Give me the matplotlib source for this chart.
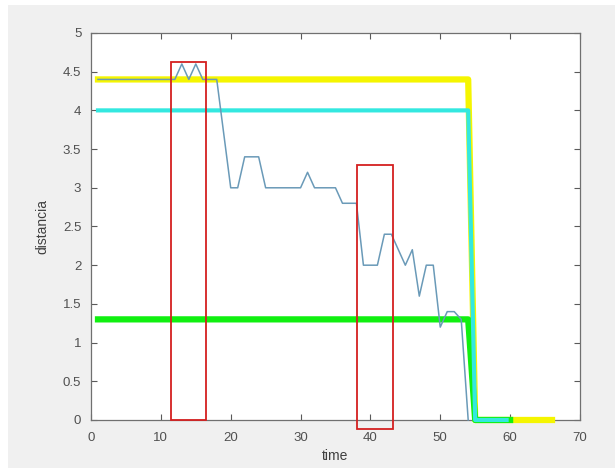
#!/usr/bin/env python3
"""Distance vs time with three reference levels and two highlight boxes."""

import matplotlib
matplotlib.use('Agg')
import matplotlib.pyplot as plt
from matplotlib.patches import Rectangle


# reference levels (breakpoints of each step line)
yellow_t = [1, 54, 55, 66]
yellow_d = [4.4, 4.4, 0.0, 0.0]

cyan_t = [1, 54, 55, 59.5]
cyan_d = [4.0, 4.0, 0.0, 0.0]

green_t = [1, 54, 55, 60]
green_d = [1.3, 1.3, 0.0, 0.0]

# measured distance
dist_t = [1, 12, 13, 14, 15, 16, 18, 20, 21, 22, 24, 25, 30, 31, 32, 35, 36,
          38, 39, 41, 42, 43, 44, 45, 46, 47, 48, 49, 50, 51, 52, 53, 54]
dist_d = [4.4, 4.4, 4.6, 4.4, 4.6, 4.4, 4.4, 3.0, 3.0, 3.4, 3.4, 3.0, 3.0,
          3.2, 3.0, 3.0, 2.8, 2.8, 2.0, 2.0, 2.4, 2.4, 2.2, 2.0, 2.2, 1.6,
          2.0, 2.0, 1.2, 1.4, 1.4, 1.3, 0.0]

# highlight boxes: (t0, t1, d0, d1)
boxes = [(11.4, 16.4, 0.0, 4.63), (38.1, 43.3, -0.12, 3.29)]

x_ticks = [0, 10, 20, 30, 40, 50, 60, 70]
y_ticks = [0, 0.5, 1, 1.5, 2, 2.5, 3, 3.5, 4, 4.5, 5]
y_labels = ['0', '0.5', '1', '1.5', '2', '2.5', '3', '3.5', '4', '4.5', '5']


def main():
    plt.rc('font', family=['Liberation Sans', 'DejaVu Sans'], size=9.5)

    fig = plt.figure(figsize=(6.15, 4.68), dpi=100, facecolor='#f0f0f0')
    # white strip of the screenshot border
    fig.patches.append(Rectangle((0, 0.989), 1, 0.011, transform=fig.transFigure,
                                 facecolor='white', edgecolor='none'))
    fig.patches.append(Rectangle((0, 0), 0.013, 1, transform=fig.transFigure,
                                 facecolor='white', edgecolor='none'))

    ax = fig.add_axes([0.148, 0.1026, 0.795, 0.8269])
    ax.set_facecolor('white')

    ax.plot(yellow_t, yellow_d, '-', color='#f5f500', lw=4.5, clip_on=False,
            zorder=3)
    ax.plot(green_t, green_d, '-', color='#10f010', lw=4.5, clip_on=False,
            zorder=3)
    ax.plot(cyan_t, cyan_d, '-', color='#33e8e0', lw=3, clip_on=False,
            zorder=3)
    ax.plot(dist_t, dist_d, '-', color='#6a9ab8', lw=1.1, clip_on=False,
            zorder=3)

    for t0, t1, d0, d1 in boxes:
        ax.add_patch(Rectangle((t0, d0), t1 - t0, d1 - d0, fill=False,
                               edgecolor='#d42020', lw=1.3, clip_on=False,
                               zorder=5))

    ax.set_xlim(0, 70)
    ax.set_ylim(0, 5)
    ax.set_xticks(x_ticks)
    ax.set_yticks(y_ticks)
    ax.set_yticklabels(y_labels)
    ax.tick_params(direction='in', top=True, right=True, length=4,
                   colors='#5a5a5a', labelcolor='#505050', width=0.8)
    ax.tick_params(axis='x', pad=9)
    ax.tick_params(axis='y', pad=7)
    for s in ax.spines.values():
        s.set_color('#707070')
        s.set_linewidth(0.9)

    ax.set_xlabel('time', color='#404040', fontsize=10, labelpad=3)
    ax.set_ylabel('distancia', color='#404040', fontsize=10, labelpad=10)

    fig.savefig('out.png', dpi=100, facecolor=fig.get_facecolor())


if __name__ == '__main__':
    main()
